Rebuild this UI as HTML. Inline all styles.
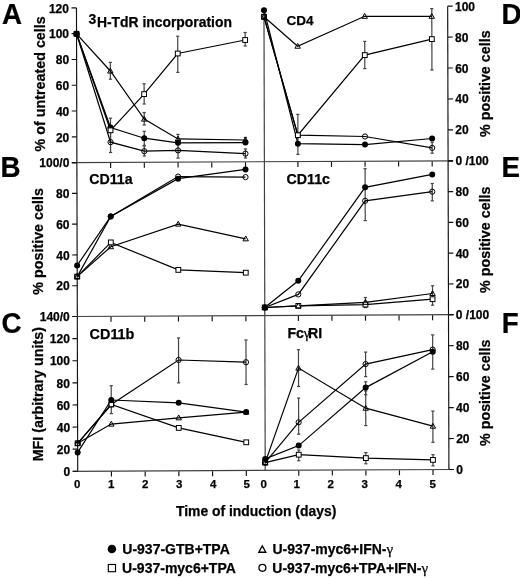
<!DOCTYPE html>
<html><head><meta charset="utf-8"><style>
html,body{margin:0;padding:0;background:#fff;}
body{width:520px;height:578px;overflow:hidden;}
svg{display:block;font-family:"Liberation Sans", sans-serif;will-change:transform;}
</style></head><body>
<svg width="520" height="578" viewBox="0 0 520 578" font-family='"Liberation Sans", sans-serif'>
<style>text{stroke:#000;stroke-width:0.25px;}</style>
<line x1="76.47" y1="7.88" x2="77.72" y2="471.28" stroke="#111" stroke-width="1.15" />
<line x1="263.97" y1="10.00" x2="265.22" y2="470.40" stroke="#3c3c3c" stroke-width="1.15" />
<line x1="447.67" y1="6.14" x2="448.92" y2="469.54" stroke="#111" stroke-width="1.15" />
<line x1="71.88" y1="162.61" x2="453.08" y2="160.81" stroke="#404040" stroke-width="1.2" />
<line x1="72.30" y1="316.51" x2="453.50" y2="314.71" stroke="#404040" stroke-width="1.2" />
<line x1="72.72" y1="471.31" x2="453.92" y2="469.51" stroke="#404040" stroke-width="1.2" />
<line x1="110.60" y1="162.92" x2="110.62" y2="167.92" stroke="#111" stroke-width="1.15" />
<line x1="144.32" y1="162.77" x2="144.34" y2="167.77" stroke="#111" stroke-width="1.15" />
<line x1="178.04" y1="162.61" x2="178.06" y2="167.61" stroke="#111" stroke-width="1.15" />
<line x1="211.76" y1="162.45" x2="211.78" y2="167.45" stroke="#111" stroke-width="1.15" />
<line x1="245.48" y1="162.29" x2="245.50" y2="167.29" stroke="#111" stroke-width="1.15" />
<line x1="297.94" y1="162.04" x2="297.96" y2="167.04" stroke="#111" stroke-width="1.15" />
<line x1="331.50" y1="161.89" x2="331.52" y2="166.89" stroke="#111" stroke-width="1.15" />
<line x1="365.06" y1="161.73" x2="365.08" y2="166.73" stroke="#111" stroke-width="1.15" />
<line x1="398.62" y1="161.57" x2="398.64" y2="166.57" stroke="#111" stroke-width="1.15" />
<line x1="432.18" y1="161.41" x2="432.20" y2="166.41" stroke="#111" stroke-width="1.15" />
<line x1="111.02" y1="316.82" x2="111.03" y2="321.82" stroke="#111" stroke-width="1.15" />
<line x1="144.74" y1="316.67" x2="144.75" y2="321.67" stroke="#111" stroke-width="1.15" />
<line x1="178.46" y1="316.51" x2="178.47" y2="321.51" stroke="#111" stroke-width="1.15" />
<line x1="212.18" y1="316.35" x2="212.19" y2="321.35" stroke="#111" stroke-width="1.15" />
<line x1="245.90" y1="316.19" x2="245.91" y2="321.19" stroke="#111" stroke-width="1.15" />
<line x1="298.36" y1="315.94" x2="298.37" y2="320.94" stroke="#111" stroke-width="1.15" />
<line x1="331.92" y1="315.79" x2="331.93" y2="320.79" stroke="#111" stroke-width="1.15" />
<line x1="365.48" y1="315.63" x2="365.49" y2="320.63" stroke="#111" stroke-width="1.15" />
<line x1="399.04" y1="315.47" x2="399.05" y2="320.47" stroke="#111" stroke-width="1.15" />
<line x1="432.60" y1="315.31" x2="432.61" y2="320.31" stroke="#111" stroke-width="1.15" />
<line x1="111.44" y1="471.62" x2="111.45" y2="476.62" stroke="#111" stroke-width="1.15" />
<line x1="145.16" y1="471.47" x2="145.17" y2="476.47" stroke="#111" stroke-width="1.15" />
<line x1="178.88" y1="471.31" x2="178.89" y2="476.31" stroke="#111" stroke-width="1.15" />
<line x1="212.60" y1="471.15" x2="212.61" y2="476.15" stroke="#111" stroke-width="1.15" />
<line x1="246.32" y1="470.99" x2="246.33" y2="475.99" stroke="#111" stroke-width="1.15" />
<line x1="298.78" y1="470.74" x2="298.79" y2="475.74" stroke="#111" stroke-width="1.15" />
<line x1="332.34" y1="470.59" x2="332.35" y2="475.59" stroke="#111" stroke-width="1.15" />
<line x1="365.90" y1="470.43" x2="365.91" y2="475.43" stroke="#111" stroke-width="1.15" />
<line x1="399.46" y1="470.27" x2="399.47" y2="475.27" stroke="#111" stroke-width="1.15" />
<line x1="433.02" y1="470.11" x2="433.03" y2="475.11" stroke="#111" stroke-width="1.15" />
<line x1="71.88" y1="162.61" x2="76.88" y2="162.58" stroke="#111" stroke-width="1.15" />
<text x="69.38" y="167.28" font-size="12" font-weight="bold" text-anchor="end" >100/0</text>
<line x1="71.81" y1="136.82" x2="76.81" y2="136.80" stroke="#111" stroke-width="1.15" />
<text x="69.31" y="141.50" font-size="12" font-weight="bold" text-anchor="end" >20</text>
<line x1="71.74" y1="111.04" x2="76.74" y2="111.02" stroke="#111" stroke-width="1.15" />
<text x="69.24" y="115.72" font-size="12" font-weight="bold" text-anchor="end" >40</text>
<line x1="71.67" y1="85.26" x2="76.67" y2="85.23" stroke="#111" stroke-width="1.15" />
<text x="69.17" y="89.93" font-size="12" font-weight="bold" text-anchor="end" >60</text>
<line x1="71.60" y1="59.47" x2="76.60" y2="59.45" stroke="#111" stroke-width="1.15" />
<text x="69.10" y="64.15" font-size="12" font-weight="bold" text-anchor="end" >80</text>
<line x1="71.54" y1="33.69" x2="76.54" y2="33.67" stroke="#111" stroke-width="1.15" />
<text x="69.04" y="38.37" font-size="12" font-weight="bold" text-anchor="end" >100</text>
<line x1="71.47" y1="7.91" x2="76.47" y2="7.88" stroke="#111" stroke-width="1.15" />
<text x="68.97" y="12.58" font-size="12" font-weight="bold" text-anchor="end" >120</text>
<line x1="72.30" y1="316.51" x2="77.30" y2="316.48" stroke="#111" stroke-width="1.15" />
<text x="69.80" y="321.18" font-size="12" font-weight="bold" text-anchor="end" >140/0</text>
<line x1="72.22" y1="285.73" x2="77.22" y2="285.70" stroke="#111" stroke-width="1.15" />
<text x="69.72" y="290.40" font-size="12" font-weight="bold" text-anchor="end" >20</text>
<line x1="72.13" y1="254.95" x2="77.13" y2="254.92" stroke="#111" stroke-width="1.15" />
<text x="69.63" y="259.62" font-size="12" font-weight="bold" text-anchor="end" >40</text>
<line x1="72.05" y1="224.17" x2="77.05" y2="224.14" stroke="#111" stroke-width="1.15" />
<text x="69.55" y="228.84" font-size="12" font-weight="bold" text-anchor="end" >60</text>
<line x1="71.97" y1="193.39" x2="76.97" y2="193.36" stroke="#111" stroke-width="1.15" />
<text x="69.47" y="198.06" font-size="12" font-weight="bold" text-anchor="end" >80</text>
<line x1="71.88" y1="162.61" x2="76.88" y2="162.58" stroke="#111" stroke-width="1.15" />
<line x1="72.72" y1="471.31" x2="77.72" y2="471.28" stroke="#111" stroke-width="1.15" />
<text x="70.22" y="475.98" font-size="12" font-weight="bold" text-anchor="end" >0</text>
<line x1="72.66" y1="449.19" x2="77.66" y2="449.17" stroke="#111" stroke-width="1.15" />
<text x="70.16" y="453.87" font-size="12" font-weight="bold" text-anchor="end" >20</text>
<line x1="72.60" y1="427.08" x2="77.60" y2="427.05" stroke="#111" stroke-width="1.15" />
<text x="70.10" y="431.75" font-size="12" font-weight="bold" text-anchor="end" >40</text>
<line x1="72.54" y1="404.96" x2="77.54" y2="404.94" stroke="#111" stroke-width="1.15" />
<text x="70.04" y="409.64" font-size="12" font-weight="bold" text-anchor="end" >60</text>
<line x1="72.48" y1="382.85" x2="77.48" y2="382.83" stroke="#111" stroke-width="1.15" />
<text x="69.98" y="387.53" font-size="12" font-weight="bold" text-anchor="end" >80</text>
<line x1="72.42" y1="360.73" x2="77.42" y2="360.71" stroke="#111" stroke-width="1.15" />
<text x="69.92" y="365.41" font-size="12" font-weight="bold" text-anchor="end" >100</text>
<line x1="72.36" y1="338.62" x2="77.36" y2="338.60" stroke="#111" stroke-width="1.15" />
<text x="69.86" y="343.30" font-size="12" font-weight="bold" text-anchor="end" >120</text>
<line x1="72.30" y1="316.51" x2="77.30" y2="316.48" stroke="#111" stroke-width="1.15" />
<line x1="448.08" y1="160.84" x2="453.08" y2="160.81" stroke="#111" stroke-width="1.15" />
<text x="455.38" y="165.34" font-size="12" font-weight="bold" text-anchor="start" >0 /100</text>
<line x1="448.00" y1="129.90" x2="453.00" y2="129.87" stroke="#111" stroke-width="1.15" />
<text x="455.30" y="134.40" font-size="12" font-weight="bold" text-anchor="start" >20</text>
<line x1="447.92" y1="98.96" x2="452.92" y2="98.93" stroke="#111" stroke-width="1.15" />
<text x="455.22" y="103.46" font-size="12" font-weight="bold" text-anchor="start" >40</text>
<line x1="447.83" y1="68.02" x2="452.83" y2="67.99" stroke="#111" stroke-width="1.15" />
<text x="455.13" y="72.52" font-size="12" font-weight="bold" text-anchor="start" >60</text>
<line x1="447.75" y1="37.08" x2="452.75" y2="37.05" stroke="#111" stroke-width="1.15" />
<text x="455.05" y="41.58" font-size="12" font-weight="bold" text-anchor="start" >80</text>
<line x1="447.67" y1="6.14" x2="452.67" y2="6.11" stroke="#111" stroke-width="1.15" />
<text x="454.97" y="10.64" font-size="12" font-weight="bold" text-anchor="start" >100</text>
<line x1="448.50" y1="314.74" x2="453.50" y2="314.71" stroke="#111" stroke-width="1.15" />
<text x="455.80" y="319.24" font-size="12" font-weight="bold" text-anchor="start" >0 /100</text>
<line x1="448.42" y1="283.96" x2="453.42" y2="283.93" stroke="#111" stroke-width="1.15" />
<text x="455.72" y="288.46" font-size="12" font-weight="bold" text-anchor="start" >20</text>
<line x1="448.33" y1="253.18" x2="453.33" y2="253.15" stroke="#111" stroke-width="1.15" />
<text x="455.63" y="257.68" font-size="12" font-weight="bold" text-anchor="start" >40</text>
<line x1="448.25" y1="222.40" x2="453.25" y2="222.37" stroke="#111" stroke-width="1.15" />
<text x="455.55" y="226.90" font-size="12" font-weight="bold" text-anchor="start" >60</text>
<line x1="448.17" y1="191.62" x2="453.17" y2="191.59" stroke="#111" stroke-width="1.15" />
<text x="455.47" y="196.12" font-size="12" font-weight="bold" text-anchor="start" >80</text>
<line x1="448.08" y1="160.84" x2="453.08" y2="160.81" stroke="#111" stroke-width="1.15" />
<line x1="448.92" y1="469.54" x2="453.92" y2="469.51" stroke="#111" stroke-width="1.15" />
<text x="456.22" y="474.04" font-size="12" font-weight="bold" text-anchor="start" >0</text>
<line x1="448.83" y1="438.58" x2="453.83" y2="438.55" stroke="#111" stroke-width="1.15" />
<text x="456.13" y="443.08" font-size="12" font-weight="bold" text-anchor="start" >20</text>
<line x1="448.75" y1="407.62" x2="453.75" y2="407.59" stroke="#111" stroke-width="1.15" />
<text x="456.05" y="412.12" font-size="12" font-weight="bold" text-anchor="start" >40</text>
<line x1="448.67" y1="376.66" x2="453.67" y2="376.63" stroke="#111" stroke-width="1.15" />
<text x="455.97" y="381.16" font-size="12" font-weight="bold" text-anchor="start" >60</text>
<line x1="448.58" y1="345.70" x2="453.58" y2="345.67" stroke="#111" stroke-width="1.15" />
<text x="455.88" y="350.20" font-size="12" font-weight="bold" text-anchor="start" >80</text>
<line x1="448.50" y1="314.74" x2="453.50" y2="314.71" stroke="#111" stroke-width="1.15" />
<text x="77.10" y="487.70" font-size="11.5" font-weight="bold" text-anchor="middle" >0</text>
<text x="111.30" y="487.70" font-size="11.5" font-weight="bold" text-anchor="middle" >1</text>
<text x="145.20" y="487.70" font-size="11.5" font-weight="bold" text-anchor="middle" >2</text>
<text x="179.30" y="487.70" font-size="11.5" font-weight="bold" text-anchor="middle" >3</text>
<text x="213.30" y="487.70" font-size="11.5" font-weight="bold" text-anchor="middle" >4</text>
<text x="246.80" y="487.70" font-size="11.5" font-weight="bold" text-anchor="middle" >5</text>
<text x="263.60" y="487.70" font-size="11.5" font-weight="bold" text-anchor="middle" >0</text>
<text x="296.80" y="487.70" font-size="11.5" font-weight="bold" text-anchor="middle" >1</text>
<text x="330.70" y="487.70" font-size="11.5" font-weight="bold" text-anchor="middle" >2</text>
<text x="364.70" y="487.70" font-size="11.5" font-weight="bold" text-anchor="middle" >3</text>
<text x="398.80" y="487.70" font-size="11.5" font-weight="bold" text-anchor="middle" >4</text>
<text x="432.60" y="487.70" font-size="11.5" font-weight="bold" text-anchor="middle" >5</text>
<line x1="110.48" y1="118.20" x2="110.55" y2="142.40" stroke="#444" stroke-width="1.2" />
<line x1="108.88" y1="118.20" x2="112.08" y2="118.20" stroke="#444" stroke-width="1.2" />
<line x1="108.95" y1="142.40" x2="112.15" y2="142.40" stroke="#444" stroke-width="1.2" />
<line x1="110.33" y1="62.40" x2="110.38" y2="79.20" stroke="#444" stroke-width="1.2" />
<line x1="108.73" y1="62.40" x2="111.93" y2="62.40" stroke="#444" stroke-width="1.2" />
<line x1="108.78" y1="79.20" x2="111.98" y2="79.20" stroke="#444" stroke-width="1.2" />
<line x1="144.11" y1="83.80" x2="144.17" y2="104.00" stroke="#444" stroke-width="1.2" />
<line x1="142.51" y1="83.80" x2="145.71" y2="83.80" stroke="#444" stroke-width="1.2" />
<line x1="142.57" y1="104.00" x2="145.77" y2="104.00" stroke="#444" stroke-width="1.2" />
<line x1="144.19" y1="112.50" x2="144.22" y2="125.00" stroke="#444" stroke-width="1.2" />
<line x1="142.59" y1="112.50" x2="145.79" y2="112.50" stroke="#444" stroke-width="1.2" />
<line x1="142.62" y1="125.00" x2="145.82" y2="125.00" stroke="#444" stroke-width="1.2" />
<line x1="144.24" y1="131.30" x2="144.28" y2="145.30" stroke="#444" stroke-width="1.2" />
<line x1="142.64" y1="131.30" x2="145.84" y2="131.30" stroke="#444" stroke-width="1.2" />
<line x1="142.68" y1="145.30" x2="145.88" y2="145.30" stroke="#444" stroke-width="1.2" />
<line x1="177.70" y1="36.20" x2="177.80" y2="72.40" stroke="#444" stroke-width="1.2" />
<line x1="176.10" y1="36.20" x2="179.30" y2="36.20" stroke="#444" stroke-width="1.2" />
<line x1="176.20" y1="72.40" x2="179.40" y2="72.40" stroke="#444" stroke-width="1.2" />
<line x1="177.97" y1="134.40" x2="177.99" y2="143.00" stroke="#444" stroke-width="1.2" />
<line x1="176.37" y1="134.40" x2="179.57" y2="134.40" stroke="#444" stroke-width="1.2" />
<line x1="176.39" y1="143.00" x2="179.59" y2="143.00" stroke="#444" stroke-width="1.2" />
<line x1="177.99" y1="143.00" x2="178.03" y2="158.10" stroke="#444" stroke-width="1.2" />
<line x1="176.39" y1="143.00" x2="179.59" y2="143.00" stroke="#444" stroke-width="1.2" />
<line x1="176.43" y1="158.10" x2="179.63" y2="158.10" stroke="#444" stroke-width="1.2" />
<line x1="245.13" y1="32.50" x2="245.17" y2="46.00" stroke="#444" stroke-width="1.2" />
<line x1="243.53" y1="32.50" x2="246.73" y2="32.50" stroke="#444" stroke-width="1.2" />
<line x1="243.57" y1="46.00" x2="246.77" y2="46.00" stroke="#444" stroke-width="1.2" />
<line x1="245.42" y1="137.40" x2="245.43" y2="142.60" stroke="#444" stroke-width="1.2" />
<line x1="243.82" y1="137.40" x2="247.02" y2="137.40" stroke="#444" stroke-width="1.2" />
<line x1="243.83" y1="142.60" x2="247.03" y2="142.60" stroke="#444" stroke-width="1.2" />
<line x1="245.45" y1="148.90" x2="245.47" y2="158.00" stroke="#444" stroke-width="1.2" />
<line x1="243.85" y1="148.90" x2="247.05" y2="148.90" stroke="#444" stroke-width="1.2" />
<line x1="243.87" y1="158.00" x2="247.07" y2="158.00" stroke="#444" stroke-width="1.2" />
<line x1="110.52" y1="132.50" x2="110.58" y2="152.50" stroke="#444" stroke-width="1.2" />
<line x1="108.92" y1="132.50" x2="112.12" y2="132.50" stroke="#444" stroke-width="1.2" />
<line x1="108.98" y1="152.50" x2="112.18" y2="152.50" stroke="#444" stroke-width="1.2" />
<line x1="144.28" y1="146.00" x2="144.31" y2="156.00" stroke="#444" stroke-width="1.2" />
<line x1="142.68" y1="146.00" x2="145.88" y2="146.00" stroke="#444" stroke-width="1.2" />
<line x1="142.71" y1="156.00" x2="145.91" y2="156.00" stroke="#444" stroke-width="1.2" />
<polyline points="76.54,33.80 110.51,127.50 144.26,138.20 177.99,142.80 245.43,142.60" fill="none" stroke="#000" stroke-width="1.2"/>
<polyline points="76.54,33.80 110.52,130.30 144.14,94.10 177.75,53.50 245.15,40.00" fill="none" stroke="#000" stroke-width="1.2"/>
<polyline points="76.54,33.80 110.36,71.00 144.21,119.10 177.98,138.90 245.42,140.00" fill="none" stroke="#000" stroke-width="1.2"/>
<polyline points="76.54,33.80 110.55,142.20 144.29,151.20 178.01,150.40 245.46,153.60" fill="none" stroke="#000" stroke-width="1.2"/>
<path d="M76.54,30.96 L79.24,35.82 L73.84,35.82 Z" fill="none" stroke="#000" stroke-width="1.00" stroke-linejoin="miter"/>
<path d="M110.36,68.17 L113.06,73.03 L107.66,73.03 Z" fill="none" stroke="#000" stroke-width="1.00" stroke-linejoin="miter"/>
<path d="M144.21,116.27 L146.91,121.12 L141.51,121.12 Z" fill="none" stroke="#000" stroke-width="1.00" stroke-linejoin="miter"/>
<path d="M177.98,136.06 L180.68,140.93 L175.28,140.93 Z" fill="none" stroke="#000" stroke-width="1.00" stroke-linejoin="miter"/>
<path d="M245.42,137.16 L248.12,142.03 L242.72,142.03 Z" fill="none" stroke="#000" stroke-width="1.00" stroke-linejoin="miter"/>
<circle cx="76.54" cy="33.80" r="2.60" fill="none" stroke="#000" stroke-width="1.00"/>
<circle cx="110.55" cy="142.20" r="2.60" fill="none" stroke="#000" stroke-width="1.00"/>
<circle cx="144.29" cy="151.20" r="2.60" fill="none" stroke="#000" stroke-width="1.00"/>
<circle cx="178.01" cy="150.40" r="2.60" fill="none" stroke="#000" stroke-width="1.00"/>
<circle cx="245.46" cy="153.60" r="2.60" fill="none" stroke="#000" stroke-width="1.00"/>
<circle cx="76.54" cy="33.80" r="3.00" fill="#000"/>
<circle cx="110.51" cy="127.50" r="3.00" fill="#000"/>
<circle cx="144.26" cy="138.20" r="3.00" fill="#000"/>
<circle cx="177.99" cy="142.80" r="3.00" fill="#000"/>
<circle cx="245.43" cy="142.60" r="3.00" fill="#000"/>
<rect x="74.14" y="31.40" width="4.80" height="4.80" fill="none" stroke="#000" stroke-width="1.00"/>
<rect x="108.12" y="127.90" width="4.80" height="4.80" fill="#fff" stroke="#000" stroke-width="1.00"/>
<rect x="141.74" y="91.70" width="4.80" height="4.80" fill="#fff" stroke="#000" stroke-width="1.00"/>
<rect x="175.35" y="51.10" width="4.80" height="4.80" fill="#fff" stroke="#000" stroke-width="1.00"/>
<rect x="242.75" y="37.60" width="4.80" height="4.80" fill="#fff" stroke="#000" stroke-width="1.00"/>
<polyline points="77.19,276.60 110.83,246.70 178.21,224.10 245.69,238.80" fill="none" stroke="#000" stroke-width="1.2"/>
<polyline points="77.19,276.60 110.82,242.40 178.33,269.90 245.78,272.70" fill="none" stroke="#000" stroke-width="1.2"/>
<polyline points="77.19,276.60 110.75,216.40 178.08,176.60 245.52,177.10" fill="none" stroke="#000" stroke-width="1.2"/>
<polyline points="77.16,265.40 110.75,216.40 178.09,178.70 245.50,169.40" fill="none" stroke="#000" stroke-width="1.2"/>
<path d="M77.19,273.77 L79.89,278.62 L74.49,278.62 Z" fill="none" stroke="#000" stroke-width="1.00" stroke-linejoin="miter"/>
<path d="M110.83,243.86 L113.53,248.72 L108.13,248.72 Z" fill="none" stroke="#000" stroke-width="1.00" stroke-linejoin="miter"/>
<path d="M178.21,221.26 L180.91,226.12 L175.51,226.12 Z" fill="none" stroke="#000" stroke-width="1.00" stroke-linejoin="miter"/>
<path d="M245.69,235.97 L248.39,240.83 L242.99,240.83 Z" fill="none" stroke="#000" stroke-width="1.00" stroke-linejoin="miter"/>
<circle cx="77.19" cy="276.60" r="2.60" fill="none" stroke="#000" stroke-width="1.00"/>
<circle cx="110.75" cy="216.40" r="2.60" fill="none" stroke="#000" stroke-width="1.00"/>
<circle cx="178.08" cy="176.60" r="2.60" fill="none" stroke="#000" stroke-width="1.00"/>
<circle cx="245.52" cy="177.10" r="2.60" fill="none" stroke="#000" stroke-width="1.00"/>
<circle cx="77.16" cy="265.40" r="3.00" fill="#000"/>
<circle cx="110.75" cy="216.40" r="3.00" fill="#000"/>
<circle cx="178.09" cy="178.70" r="3.00" fill="#000"/>
<circle cx="245.50" cy="169.40" r="3.00" fill="#000"/>
<rect x="74.79" y="274.20" width="4.80" height="4.80" fill="none" stroke="#000" stroke-width="1.00"/>
<rect x="108.42" y="240.00" width="4.80" height="4.80" fill="#fff" stroke="#000" stroke-width="1.00"/>
<rect x="175.93" y="267.50" width="4.80" height="4.80" fill="#fff" stroke="#000" stroke-width="1.00"/>
<rect x="243.38" y="270.30" width="4.80" height="4.80" fill="#fff" stroke="#000" stroke-width="1.00"/>
<line x1="111.21" y1="385.70" x2="111.28" y2="413.60" stroke="#444" stroke-width="1.2" />
<line x1="109.61" y1="385.70" x2="112.81" y2="385.70" stroke="#444" stroke-width="1.2" />
<line x1="109.68" y1="413.60" x2="112.88" y2="413.60" stroke="#444" stroke-width="1.2" />
<line x1="178.52" y1="338.00" x2="178.64" y2="382.90" stroke="#444" stroke-width="1.2" />
<line x1="176.92" y1="338.00" x2="180.12" y2="338.00" stroke="#444" stroke-width="1.2" />
<line x1="177.04" y1="382.90" x2="180.24" y2="382.90" stroke="#444" stroke-width="1.2" />
<line x1="245.96" y1="340.00" x2="246.08" y2="384.50" stroke="#444" stroke-width="1.2" />
<line x1="244.36" y1="340.00" x2="247.56" y2="340.00" stroke="#444" stroke-width="1.2" />
<line x1="244.48" y1="384.50" x2="247.68" y2="384.50" stroke="#444" stroke-width="1.2" />
<polyline points="77.64,443.30 111.31,424.10 178.73,417.80 246.16,412.10" fill="none" stroke="#000" stroke-width="1.2"/>
<polyline points="77.64,443.30 111.26,404.50 178.76,427.90 246.24,442.30" fill="none" stroke="#000" stroke-width="1.2"/>
<polyline points="77.64,443.30 111.26,404.50 178.58,360.00 246.02,362.20" fill="none" stroke="#000" stroke-width="1.2"/>
<polyline points="77.67,452.40 111.24,400.00 178.69,402.80 246.16,412.10" fill="none" stroke="#000" stroke-width="1.2"/>
<rect x="75.24" y="440.90" width="4.80" height="4.80" fill="none" stroke="#000" stroke-width="1.00"/>
<rect x="108.86" y="402.10" width="4.80" height="4.80" fill="#fff" stroke="#000" stroke-width="1.00"/>
<rect x="176.36" y="425.50" width="4.80" height="4.80" fill="#fff" stroke="#000" stroke-width="1.00"/>
<rect x="243.84" y="439.90" width="4.80" height="4.80" fill="#fff" stroke="#000" stroke-width="1.00"/>
<path d="M77.64,440.47 L80.34,445.32 L74.94,445.32 Z" fill="none" stroke="#000" stroke-width="1.00" stroke-linejoin="miter"/>
<path d="M111.31,421.27 L114.01,426.12 L108.61,426.12 Z" fill="none" stroke="#000" stroke-width="1.00" stroke-linejoin="miter"/>
<path d="M178.73,414.97 L181.43,419.82 L176.03,419.82 Z" fill="none" stroke="#000" stroke-width="1.00" stroke-linejoin="miter"/>
<path d="M246.16,409.27 L248.86,414.12 L243.46,414.12 Z" fill="none" stroke="#000" stroke-width="1.00" stroke-linejoin="miter"/>
<circle cx="77.67" cy="452.40" r="3.00" fill="#000"/>
<circle cx="111.24" cy="400.00" r="3.00" fill="#000"/>
<circle cx="178.69" cy="402.80" r="3.00" fill="#000"/>
<circle cx="246.16" cy="412.10" r="3.00" fill="#000"/>
<circle cx="77.64" cy="443.30" r="2.60" fill="none" stroke="#000" stroke-width="1.00"/>
<circle cx="111.26" cy="404.50" r="2.60" fill="none" stroke="#000" stroke-width="1.00"/>
<circle cx="178.58" cy="360.00" r="2.60" fill="none" stroke="#000" stroke-width="1.00"/>
<circle cx="246.02" cy="362.20" r="2.60" fill="none" stroke="#000" stroke-width="1.00"/>
<line x1="297.82" y1="114.40" x2="297.92" y2="154.40" stroke="#444" stroke-width="1.2" />
<line x1="296.22" y1="114.40" x2="299.42" y2="114.40" stroke="#444" stroke-width="1.2" />
<line x1="296.32" y1="154.40" x2="299.52" y2="154.40" stroke="#444" stroke-width="1.2" />
<line x1="364.74" y1="41.40" x2="364.81" y2="68.60" stroke="#444" stroke-width="1.2" />
<line x1="363.14" y1="41.40" x2="366.34" y2="41.40" stroke="#444" stroke-width="1.2" />
<line x1="363.21" y1="68.60" x2="366.41" y2="68.60" stroke="#444" stroke-width="1.2" />
<line x1="431.77" y1="8.60" x2="431.94" y2="70.00" stroke="#444" stroke-width="1.2" />
<line x1="430.17" y1="8.60" x2="433.37" y2="8.60" stroke="#444" stroke-width="1.2" />
<line x1="430.34" y1="70.00" x2="433.54" y2="70.00" stroke="#444" stroke-width="1.2" />
<line x1="432.13" y1="142.30" x2="432.16" y2="153.20" stroke="#444" stroke-width="1.2" />
<line x1="430.53" y1="142.30" x2="433.73" y2="142.30" stroke="#444" stroke-width="1.2" />
<line x1="430.56" y1="153.20" x2="433.76" y2="153.20" stroke="#444" stroke-width="1.2" />
<polyline points="263.97,10.20 297.90,143.70 365.02,144.60 432.12,138.50" fill="none" stroke="#000" stroke-width="1.2"/>
<polyline points="263.99,16.80 297.87,135.20 364.78,55.10 431.85,39.10" fill="none" stroke="#000" stroke-width="1.2"/>
<polyline points="263.99,16.80 297.87,135.20 365.00,136.50 432.15,147.90" fill="none" stroke="#000" stroke-width="1.2"/>
<polyline points="263.99,16.80 297.63,46.20 364.67,16.30 431.79,16.30" fill="none" stroke="#000" stroke-width="1.2"/>
<circle cx="263.99" cy="16.80" r="2.60" fill="none" stroke="#000" stroke-width="1.00"/>
<circle cx="297.87" cy="135.20" r="2.60" fill="none" stroke="#000" stroke-width="1.00"/>
<circle cx="365.00" cy="136.50" r="2.60" fill="none" stroke="#000" stroke-width="1.00"/>
<circle cx="432.15" cy="147.90" r="2.60" fill="none" stroke="#000" stroke-width="1.00"/>
<path d="M263.99,13.96 L266.69,18.83 L261.29,18.83 Z" fill="none" stroke="#000" stroke-width="1.00" stroke-linejoin="miter"/>
<path d="M297.63,43.37 L300.33,48.23 L294.93,48.23 Z" fill="none" stroke="#000" stroke-width="1.00" stroke-linejoin="miter"/>
<path d="M364.67,13.46 L367.37,18.33 L361.97,18.33 Z" fill="none" stroke="#000" stroke-width="1.00" stroke-linejoin="miter"/>
<path d="M431.79,13.46 L434.49,18.33 L429.09,18.33 Z" fill="none" stroke="#000" stroke-width="1.00" stroke-linejoin="miter"/>
<circle cx="263.97" cy="10.20" r="3.00" fill="#000"/>
<circle cx="297.90" cy="143.70" r="3.00" fill="#000"/>
<circle cx="365.02" cy="144.60" r="3.00" fill="#000"/>
<circle cx="432.12" cy="138.50" r="3.00" fill="#000"/>
<rect x="261.59" y="14.40" width="4.80" height="4.80" fill="none" stroke="#000" stroke-width="1.00"/>
<rect x="295.47" y="132.80" width="4.80" height="4.80" fill="#fff" stroke="#000" stroke-width="1.00"/>
<rect x="362.38" y="52.70" width="4.80" height="4.80" fill="#fff" stroke="#000" stroke-width="1.00"/>
<rect x="429.45" y="36.70" width="4.80" height="4.80" fill="#fff" stroke="#000" stroke-width="1.00"/>
<line x1="365.08" y1="168.70" x2="365.22" y2="220.60" stroke="#444" stroke-width="1.2" />
<line x1="363.48" y1="168.70" x2="366.68" y2="168.70" stroke="#444" stroke-width="1.2" />
<line x1="363.62" y1="220.60" x2="366.82" y2="220.60" stroke="#444" stroke-width="1.2" />
<line x1="432.24" y1="183.50" x2="432.29" y2="200.80" stroke="#444" stroke-width="1.2" />
<line x1="430.64" y1="183.50" x2="433.84" y2="183.50" stroke="#444" stroke-width="1.2" />
<line x1="430.69" y1="200.80" x2="433.89" y2="200.80" stroke="#444" stroke-width="1.2" />
<line x1="365.43" y1="297.50" x2="365.46" y2="307.50" stroke="#444" stroke-width="1.2" />
<line x1="363.83" y1="297.50" x2="367.03" y2="297.50" stroke="#444" stroke-width="1.2" />
<line x1="363.86" y1="307.50" x2="367.06" y2="307.50" stroke="#444" stroke-width="1.2" />
<line x1="432.52" y1="285.80" x2="432.57" y2="305.20" stroke="#444" stroke-width="1.2" />
<line x1="430.92" y1="285.80" x2="434.12" y2="285.80" stroke="#444" stroke-width="1.2" />
<line x1="430.97" y1="305.20" x2="434.17" y2="305.20" stroke="#444" stroke-width="1.2" />
<polyline points="264.78,307.50 298.33,305.90 365.45,304.60 432.56,299.20" fill="none" stroke="#000" stroke-width="1.2"/>
<polyline points="264.78,307.50 298.33,305.90 365.44,302.30 432.54,293.50" fill="none" stroke="#000" stroke-width="1.2"/>
<polyline points="264.78,307.50 298.30,294.40 365.17,200.80 432.27,191.70" fill="none" stroke="#000" stroke-width="1.2"/>
<polyline points="264.78,307.50 298.27,280.80 365.13,187.30 432.22,174.40" fill="none" stroke="#000" stroke-width="1.2"/>
<circle cx="264.78" cy="307.50" r="3.00" fill="#000"/>
<circle cx="298.27" cy="280.80" r="3.00" fill="#000"/>
<circle cx="365.13" cy="187.30" r="3.00" fill="#000"/>
<circle cx="432.22" cy="174.40" r="3.00" fill="#000"/>
<rect x="262.38" y="305.10" width="4.80" height="4.80" fill="none" stroke="#000" stroke-width="1.00"/>
<rect x="295.93" y="303.50" width="4.80" height="4.80" fill="#fff" stroke="#000" stroke-width="1.00"/>
<rect x="363.05" y="302.20" width="4.80" height="4.80" fill="#fff" stroke="#000" stroke-width="1.00"/>
<rect x="430.16" y="296.80" width="4.80" height="4.80" fill="#fff" stroke="#000" stroke-width="1.00"/>
<path d="M264.78,304.67 L267.48,309.52 L262.08,309.52 Z" fill="none" stroke="#000" stroke-width="1.00" stroke-linejoin="miter"/>
<path d="M298.33,303.06 L301.03,307.92 L295.63,307.92 Z" fill="none" stroke="#000" stroke-width="1.00" stroke-linejoin="miter"/>
<path d="M365.44,299.47 L368.14,304.32 L362.74,304.32 Z" fill="none" stroke="#000" stroke-width="1.00" stroke-linejoin="miter"/>
<path d="M432.54,290.67 L435.24,295.52 L429.84,295.52 Z" fill="none" stroke="#000" stroke-width="1.00" stroke-linejoin="miter"/>
<circle cx="264.78" cy="307.50" r="2.60" fill="none" stroke="#000" stroke-width="1.00"/>
<circle cx="298.30" cy="294.40" r="2.60" fill="none" stroke="#000" stroke-width="1.00"/>
<circle cx="365.17" cy="200.80" r="2.60" fill="none" stroke="#000" stroke-width="1.00"/>
<circle cx="432.27" cy="191.70" r="2.60" fill="none" stroke="#000" stroke-width="1.00"/>
<line x1="298.45" y1="349.70" x2="298.55" y2="386.50" stroke="#444" stroke-width="1.2" />
<line x1="296.85" y1="349.70" x2="300.05" y2="349.70" stroke="#444" stroke-width="1.2" />
<line x1="296.95" y1="386.50" x2="300.15" y2="386.50" stroke="#444" stroke-width="1.2" />
<line x1="298.58" y1="398.00" x2="298.68" y2="434.20" stroke="#444" stroke-width="1.2" />
<line x1="296.98" y1="398.00" x2="300.18" y2="398.00" stroke="#444" stroke-width="1.2" />
<line x1="297.08" y1="434.20" x2="300.28" y2="434.20" stroke="#444" stroke-width="1.2" />
<line x1="298.72" y1="450.00" x2="298.75" y2="460.80" stroke="#444" stroke-width="1.2" />
<line x1="297.12" y1="450.00" x2="300.32" y2="450.00" stroke="#444" stroke-width="1.2" />
<line x1="297.15" y1="460.80" x2="300.35" y2="460.80" stroke="#444" stroke-width="1.2" />
<line x1="365.58" y1="352.10" x2="365.64" y2="376.60" stroke="#444" stroke-width="1.2" />
<line x1="363.98" y1="352.10" x2="367.18" y2="352.10" stroke="#444" stroke-width="1.2" />
<line x1="364.04" y1="376.60" x2="367.24" y2="376.60" stroke="#444" stroke-width="1.2" />
<line x1="365.66" y1="381.80" x2="365.69" y2="394.70" stroke="#444" stroke-width="1.2" />
<line x1="364.06" y1="381.80" x2="367.26" y2="381.80" stroke="#444" stroke-width="1.2" />
<line x1="364.09" y1="394.70" x2="367.29" y2="394.70" stroke="#444" stroke-width="1.2" />
<line x1="365.68" y1="391.00" x2="365.78" y2="425.60" stroke="#444" stroke-width="1.2" />
<line x1="364.08" y1="391.00" x2="367.28" y2="391.00" stroke="#444" stroke-width="1.2" />
<line x1="364.18" y1="425.60" x2="367.38" y2="425.60" stroke="#444" stroke-width="1.2" />
<line x1="365.85" y1="452.60" x2="365.88" y2="463.80" stroke="#444" stroke-width="1.2" />
<line x1="364.25" y1="452.60" x2="367.45" y2="452.60" stroke="#444" stroke-width="1.2" />
<line x1="364.28" y1="463.80" x2="367.48" y2="463.80" stroke="#444" stroke-width="1.2" />
<line x1="432.65" y1="334.90" x2="432.75" y2="369.10" stroke="#444" stroke-width="1.2" />
<line x1="431.05" y1="334.90" x2="434.25" y2="334.90" stroke="#444" stroke-width="1.2" />
<line x1="431.15" y1="369.10" x2="434.35" y2="369.10" stroke="#444" stroke-width="1.2" />
<line x1="432.86" y1="411.10" x2="432.94" y2="442.30" stroke="#444" stroke-width="1.2" />
<line x1="431.26" y1="411.10" x2="434.46" y2="411.10" stroke="#444" stroke-width="1.2" />
<line x1="431.34" y1="442.30" x2="434.54" y2="442.30" stroke="#444" stroke-width="1.2" />
<line x1="432.98" y1="454.70" x2="433.01" y2="465.90" stroke="#444" stroke-width="1.2" />
<line x1="431.38" y1="454.70" x2="434.58" y2="454.70" stroke="#444" stroke-width="1.2" />
<line x1="431.41" y1="465.90" x2="434.61" y2="465.90" stroke="#444" stroke-width="1.2" />
<polyline points="265.20,462.60 298.73,454.70 365.86,458.10 432.99,459.90" fill="none" stroke="#000" stroke-width="1.2"/>
<polyline points="265.20,462.60 298.50,368.10 365.73,408.20 432.90,426.20" fill="none" stroke="#000" stroke-width="1.2"/>
<polyline points="265.20,462.60 298.65,422.30 365.61,364.10 432.69,349.60" fill="none" stroke="#000" stroke-width="1.2"/>
<polyline points="265.19,458.90 298.71,445.60 365.67,387.60 432.70,351.70" fill="none" stroke="#000" stroke-width="1.2"/>
<path d="M265.20,459.77 L267.90,464.62 L262.50,464.62 Z" fill="none" stroke="#000" stroke-width="1.00" stroke-linejoin="miter"/>
<path d="M298.50,365.27 L301.20,370.12 L295.80,370.12 Z" fill="none" stroke="#000" stroke-width="1.00" stroke-linejoin="miter"/>
<path d="M365.73,405.37 L368.43,410.22 L363.03,410.22 Z" fill="none" stroke="#000" stroke-width="1.00" stroke-linejoin="miter"/>
<path d="M432.90,423.37 L435.60,428.22 L430.20,428.22 Z" fill="none" stroke="#000" stroke-width="1.00" stroke-linejoin="miter"/>
<rect x="262.80" y="460.20" width="4.80" height="4.80" fill="none" stroke="#000" stroke-width="1.00"/>
<rect x="296.33" y="452.30" width="4.80" height="4.80" fill="#fff" stroke="#000" stroke-width="1.00"/>
<rect x="363.46" y="455.70" width="4.80" height="4.80" fill="#fff" stroke="#000" stroke-width="1.00"/>
<rect x="430.59" y="457.50" width="4.80" height="4.80" fill="#fff" stroke="#000" stroke-width="1.00"/>
<circle cx="265.20" cy="462.60" r="2.60" fill="none" stroke="#000" stroke-width="1.00"/>
<circle cx="298.65" cy="422.30" r="2.60" fill="none" stroke="#000" stroke-width="1.00"/>
<circle cx="365.61" cy="364.10" r="2.60" fill="none" stroke="#000" stroke-width="1.00"/>
<circle cx="432.69" cy="349.60" r="2.60" fill="none" stroke="#000" stroke-width="1.00"/>
<circle cx="265.19" cy="458.90" r="3.00" fill="#000"/>
<circle cx="298.71" cy="445.60" r="3.00" fill="#000"/>
<circle cx="365.67" cy="387.60" r="3.00" fill="#000"/>
<circle cx="432.70" cy="351.70" r="3.00" fill="#000"/>
<text x="88.60" y="23.80" font-size="14" font-weight="bold" text-anchor="start" >3</text>
<text x="96.90" y="27.40" font-size="13.9" font-weight="bold" text-anchor="start" >H-TdR incorporation</text>
<text x="286.60" y="25.30" font-size="13.5" font-weight="bold" text-anchor="start" >CD4</text>
<text x="89.20" y="184.40" font-size="14.2" font-weight="bold" text-anchor="start" >CD11a</text>
<text x="286.60" y="184.00" font-size="14.2" font-weight="bold" text-anchor="start" >CD11c</text>
<text x="89.60" y="338.70" font-size="14.4" font-weight="bold" text-anchor="start" >CD11b</text>
<text x="287.4" y="338.0" font-size="14.2" font-weight="bold">Fc<tspan font-family="Liberation Serif" font-weight="normal" font-size="14" dx="-0.3">γ</tspan><tspan dx="-1.9">RI</tspan></text>
<text x="0" y="0" font-size="14.3" font-weight="bold" text-anchor="middle" transform="translate(44.50,83.85) rotate(-90)">% of untreated cells</text>
<text x="0" y="0" font-size="14.3" font-weight="bold" text-anchor="middle" transform="translate(43.30,241.40) rotate(-90)">% positive cells</text>
<text x="0" y="0" font-size="14.3" font-weight="bold" text-anchor="middle" transform="translate(42.90,394.20) rotate(-90)">MFI (arbitrary units)</text>
<text x="0" y="0" font-size="14.3" font-weight="bold" text-anchor="middle" transform="translate(489.50,83.65) rotate(-90)">% positive cells</text>
<text x="0" y="0" font-size="14.3" font-weight="bold" text-anchor="middle" transform="translate(489.80,239.70) rotate(-90)">% positive cells</text>
<text x="0" y="0" font-size="14.3" font-weight="bold" text-anchor="middle" transform="translate(490.20,392.75) rotate(-90)">% positive cells</text>
<text x="0" y="0" font-size="29.5" font-weight="bold" transform="translate(2.00,23.60) scale(0.94,1)">A</text>
<text x="0" y="0" font-size="29.5" font-weight="bold" transform="translate(0.60,176.60) scale(0.94,1)">B</text>
<text x="0" y="0" font-size="29.5" font-weight="bold" transform="translate(1.60,332.60) scale(0.94,1)">C</text>
<text x="0" y="0" font-size="29.5" font-weight="bold" transform="translate(501.60,23.50) scale(0.94,1)">D</text>
<text x="0" y="0" font-size="29.5" font-weight="bold" transform="translate(501.60,176.60) scale(0.94,1)">E</text>
<text x="0" y="0" font-size="29.5" font-weight="bold" transform="translate(501.80,332.90) scale(0.94,1)">F</text>
<text x="176.00" y="515.60" font-size="13.9" font-weight="bold" text-anchor="start" >Time of induction (days)</text>
<circle cx="111.90" cy="549.00" r="4.26" fill="#000"/>
<text x="122.30" y="554.20" font-size="14" font-weight="bold" text-anchor="start" >U-937-GTB+TPA</text>
<rect x="108.30" y="564.50" width="7.20" height="7.20" fill="#fff" stroke="#000" stroke-width="1.15"/>
<text x="122.10" y="572.60" font-size="14" font-weight="bold" text-anchor="start" >U-937-myc6+TPA</text>
<path d="M262.30,545.91 L265.81,552.23 L258.79,552.23 Z" fill="none" stroke="#000" stroke-width="1.30" stroke-linejoin="miter"/>
<text x="272.5" y="554.2" font-size="14" font-weight="bold">U-937-myc6+IFN-<tspan font-family="Liberation Serif" font-weight="normal" font-size="15">γ</tspan></text>
<circle cx="262.40" cy="567.80" r="3.46" fill="#fff" stroke="#000" stroke-width="1.30"/>
<text x="272.3" y="572.6" font-size="14" font-weight="bold">U-937-myc6+TPA+IFN-<tspan font-family="Liberation Serif" font-weight="normal" font-size="15">γ</tspan></text>
</svg>
</body></html>
